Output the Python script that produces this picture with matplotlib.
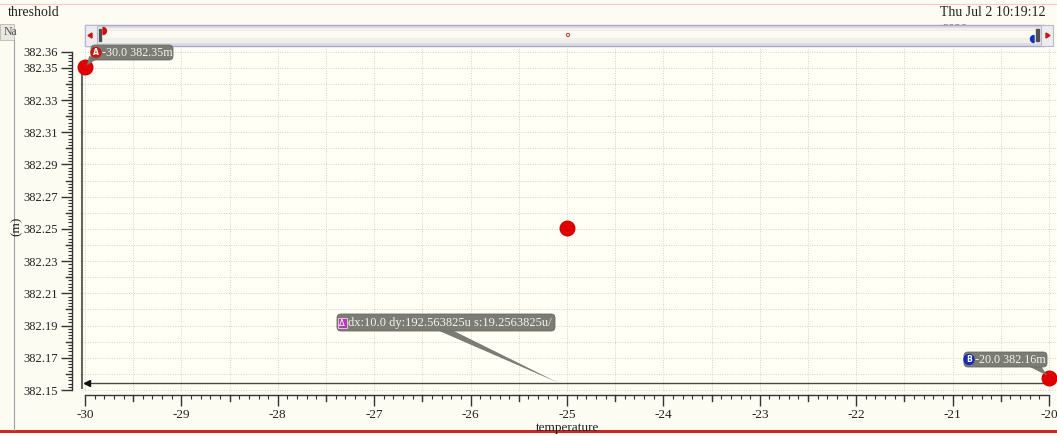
import matplotlib
matplotlib.use("Agg")
import matplotlib.pyplot as plt
import numpy as np
from matplotlib.patches import FancyBboxPatch, Rectangle, Polygon, Circle, Wedge
from matplotlib.ticker import FixedLocator

# ---- data -------------------------------------------------------------
temperature = [-30.0, -25.0, -20.0]
threshold_m = [382.3503, 382.2506, 382.157736]   # millivolts

marker_a = (-30.0, 382.3503)
marker_b = (-20.0, 382.157736)
delta_level = 382.1545            # level of the delta-marker baseline
delta_text = "dx:10.0 dy:192.563825u s:19.2563825u/"
marker_a_text = "-30.0 382.35m"
marker_b_text = "-20.0 382.16m"

ytick_labels = [382.36, 382.35, 382.33, 382.31, 382.29, 382.27, 382.25,
                382.23, 382.21, 382.19, 382.17, 382.15]
xtick_labels = [-30, -29, -28, -27, -26, -25, -24, -23, -22, -21, -20]

title_text = "threshold"
stamp_text = "Thu Jul 2 10:19:12"

# ---- figure -----------------------------------------------------------
W, H = 1057, 436
DPI = 100
plt.rcParams["font.family"] = ["Liberation Serif", "DejaVu Serif"]
fig = plt.figure(figsize=(W / DPI, H / DPI), dpi=DPI, facecolor="#fcfcf2")

def fr(x0, y0, x1, y1):
    """pixel box (top-left origin) -> figure fraction rect"""
    return [x0 / W, 1 - y1 / H, (x1 - x0) / W, (y1 - y0) / H]

# background chrome layer
bg = fig.add_axes([0, 0, 1, 1], zorder=0)
bg.set_xlim(0, W); bg.set_ylim(H, 0); bg.axis("off")
bg.add_patch(Rectangle((0, 4), W, 1.2, color="#f4c8c8", lw=0))
bg.add_patch(Rectangle((0, 430), W, 2.5, color="#c82828", lw=0))
bg.add_patch(Rectangle((0, 24), 14, 16, facecolor="#e8e8e0", edgecolor="#b8b8b0", lw=0.6))
bg.text(4, 32, "Na", fontsize=8.5, va="center", ha="left", color="#555555")
bg.plot([13.5, 13.5], [40, 430], color="#a0a0a0", lw=0.8)
bg.text(8, 12, title_text, fontsize=10, va="center", ha="left", color="#222222")
bg.text(940, 12, stamp_text, fontsize=10, va="center", ha="left", color="#222222")
bg.text(942, 29, "2020", fontsize=9, va="center", ha="left", color="#666666")

# main plot axes
ax = fig.add_axes(fr(80, 47, 1057, 392), zorder=1, facecolor="#fffff6")
px_per_x = 96.4
px_per_y = 1611.0
ax.set_xlim(-30 - 5 / px_per_x, -20 + 8 / px_per_x)
ax.set_ylim(382.36 - (392 - 51.7) / px_per_y, 382.36 + (51.7 - 47) / px_per_y)

# grid
for gx in np.arange(-30, -19.99, 0.5):
    ax.axvline(gx, color="#d2d2c8", lw=0.7, ls=(0, (1, 1.5)), zorder=0)
for gy in np.arange(382.15, 382.365, 0.01):
    ax.axhline(gy, color="#d2d2c8", lw=0.7, ls=(0, (1, 1.5)), zorder=0)

# spines
for s in ("top", "right"):
    ax.spines[s].set_visible(False)
ax.spines["left"].set_position(("outward", 8 * 72 / DPI))
ax.spines["left"].set_bounds(382.15, 382.36)
ax.spines["bottom"].set_position(("outward", 3 * 72 / DPI))
ax.spines["bottom"].set_bounds(-30, -20)
for s in ("left", "bottom"):
    ax.spines[s].set_color("#333333")
    ax.spines[s].set_linewidth(1.0)

ax.yaxis.set_major_locator(FixedLocator(ytick_labels))
ax.set_yticklabels([f"{v:.2f}" for v in ytick_labels])
ax.yaxis.set_minor_locator(FixedLocator(np.arange(382.15, 382.3601, 0.002)))
ax.xaxis.set_major_locator(FixedLocator(xtick_labels))
ax.set_xticklabels([f"{v}" for v in xtick_labels])
ax.xaxis.set_minor_locator(FixedLocator(np.arange(-30, -19.99, 0.1)))
ax.tick_params(axis="both", which="major", direction="out", length=8,
               width=1.0, color="#333333", labelsize=9.5, labelcolor="#222222")
ax.tick_params(axis="y", which="major", labelsize=9, pad=2)
ax.tick_params(axis="both", which="minor", direction="out", length=3,
               width=0.8, color="#333333")
ax.tick_params(axis="x", which="major", pad=2)

# medium ticks (every 0.01 on y, every 0.5 on x)
ytr = ax.get_yaxis_transform()
x_sp = -8 / (1057 - 80)
for v in np.arange(382.16, 382.36, 0.02):
    ax.plot([x_sp - 6 / 977, x_sp], [v, v], transform=ytr, color="#333333",
            lw=1.0, clip_on=False)
xtr = ax.get_xaxis_transform()
y_sp = -3 / 345
for v in np.arange(-29.5, -20, 1.0):
    ax.plot([v, v], [y_sp - 6 / 345, y_sp], transform=xtr, color="#333333",
            lw=1.0, clip_on=False)

# delta-marker lines
ax.plot([marker_a[0] - 0.03, marker_a[0] - 0.03], [marker_a[1], 382.1515],
        color="#66665f", lw=1.5, zorder=2, clip_on=False)
ax.plot([marker_a[0], marker_b[0]], [delta_level, delta_level], color="#4a4a45",
        lw=1.0, zorder=2, clip_on=False)
ax.plot([marker_a[0] + 0.02], [delta_level], marker="<", ms=4, color="#111111",
        zorder=3, clip_on=False)
ax.plot([marker_b[0] - 0.02], [delta_level + 0.001], marker=(3, 0, 30), ms=4,
        color="#111111", zorder=3, clip_on=False)

# data points
ax.plot(temperature, threshold_m, ls="none", marker="o", ms=10.5,
        color="#e00000", mec="#d00000", zorder=4, clip_on=False)

fig.text(568 / W, 1 - 428 / H, "temperature", fontsize=9.5, ha="center",
         va="center", color="#222222")
fig.text(17 / W, 1 - 226 / H, "(m)", fontsize=9.5, ha="center", va="center",
         rotation=90, color="#222222")

# front layer: scrollbar and marker labels
fg = fig.add_axes([0, 0, 1, 1], zorder=3)
fg.set_xlim(0, W); fg.set_ylim(H, 0); fg.axis("off")
fg.patch.set_alpha(0)

def to_px(x, y):
    dx, dy = ax.transData.transform((x, y))
    return dx * W / fig.bbox.width, H - dy * H / fig.bbox.height

# scrollbar
fg.add_patch(Rectangle((85, 25), 960, 21, facecolor="#dcdce6", edgecolor="#a8a8c4", lw=1.0))
fg.add_patch(Rectangle((86, 28), 958, 15, facecolor="#f0f0e8", lw=0))
fg.add_patch(Rectangle((86, 31), 958, 7, facecolor="#fbfbf4", lw=0))
fg.add_patch(Rectangle((85, 25), 12, 21, facecolor="#ececf0", edgecolor="#b8b8cc", lw=0.8))
fg.add_patch(Rectangle((1041, 25), 12, 21, facecolor="#ececf0", edgecolor="#b8b8cc", lw=0.8))
fg.add_patch(Polygon([(88, 35.5), (92, 33), (92, 38)], color="#d01010"))
fg.add_patch(Polygon([(1050, 35.5), (1046, 33), (1046, 38)], color="#d01010"))
fg.add_patch(Rectangle((98.5, 29), 2.5, 12, color="#505050"))
fg.add_patch(Rectangle((1036, 29), 2.5, 12, color="#505050"))
fg.add_patch(Wedge((103, 31), 3.5, -90, 90, color="#d01010"))
fg.add_patch(Wedge((1034, 39), 3.5, 90, 270, color="#1030c0"))
fg.add_patch(Circle((568, 35), 1.6, facecolor="none", edgecolor="#d04040", lw=0.8))

def marker_label(x0, y0, x1, y1, text, icon, icon_color, tip, base, fs=9):
    fg.add_patch(Polygon([base[0], base[1], tip], color="#7b7d74", lw=0, zorder=2))
    fg.add_patch(FancyBboxPatch((x0 + 3, y0), x1 - x0 - 6, y1 - y0,
                                boxstyle="round,pad=0,rounding_size=4",
                                facecolor="#7b7d74", edgecolor="#6a6c64",
                                lw=0.6, zorder=2))
    ic_x = x0 + 8
    cy = (y0 + y1) / 2
    if icon == "square":
        fg.add_patch(Rectangle((ic_x - 4.5, cy - 5), 9, 10, facecolor=icon_color,
                               edgecolor="#f0d0f0", lw=0.6, zorder=3))
        fg.text(ic_x, cy + 0.5, "Δ", fontsize=6, color="white", ha="center",
                va="center", zorder=4, family="DejaVu Sans")
    else:
        fg.add_patch(Circle((ic_x, cy), 5, color=icon_color, zorder=3))
        fg.text(ic_x, cy + 0.3, icon, fontsize=5.5, color="white", ha="center",
                va="center", zorder=4, weight="bold", family="DejaVu Sans")
    fg.text(ic_x + 6, cy + 0.5, text, fontsize=fs, color="#f4f4ee", ha="left",
            va="center", zorder=4)

ax_tip = to_px(*marker_a)
marker_label(88, 45, 176, 60, marker_a_text, "A", "#c81818",
             (ax_tip[0] + 2, ax_tip[1] - 2), [(89, 56), (97, 59)], fs=8.7)
bx_tip = to_px(*marker_b)
marker_label(961, 352, 1050, 367, marker_b_text, "B", "#1828b8",
             (bx_tip[0] - 2, bx_tip[1] - 2), [(1028, 366), (1040, 364)], fs=8.7)
d_tip = to_px(-25.09, delta_level)
marker_label(334, 314, 558, 331, delta_text, "square", "#b040b0",
             d_tip, [(437, 330), (452, 330)])

fig.savefig("out.png", dpi=DPI, facecolor=fig.get_facecolor())
